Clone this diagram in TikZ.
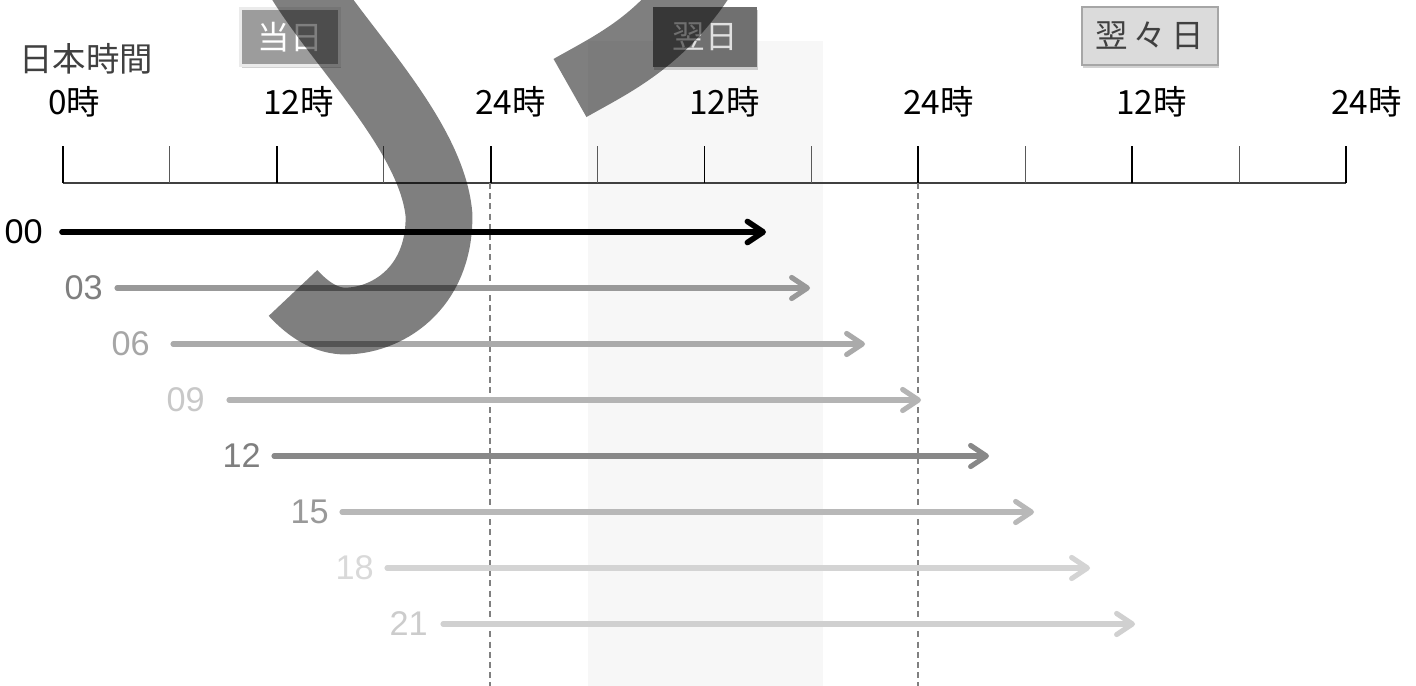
\documentclass[tikz,border=0pt]{standalone}
\usepackage{fontspec}
\setmainfont{Liberation Sans}
\newfontfamily\jpfont{Noto Sans CJK JP}
\usetikzlibrary{arrows.meta,shadows}

\definecolor{axisgray}{HTML}{404040}
\definecolor{bandgray}{HTML}{F7F7F7}
\definecolor{g03t}{HTML}{7F7F7F}\definecolor{g03l}{HTML}{999999}
\definecolor{g06t}{HTML}{A6A6A6}\definecolor{g06l}{HTML}{AAAAAA}
\definecolor{g09t}{HTML}{C8C8C8}\definecolor{g09l}{HTML}{B4B4B4}
\definecolor{g12t}{HTML}{7F7F7F}\definecolor{g12l}{HTML}{888888}
\definecolor{g15t}{HTML}{999999}\definecolor{g15l}{HTML}{B8B8B8}
\definecolor{g18t}{HTML}{D9D9D9}\definecolor{g18l}{HTML}{D4D4D4}
\definecolor{g21t}{HTML}{CCCCCC}\definecolor{g21l}{HTML}{D0D0D0}

\begin{document}
\begin{tikzpicture}[x=0.02cm, y=-0.02cm,
  hour/.style={font=\jpfont\fontsize{19}{21}\selectfont, anchor=west, inner sep=0pt},
  runlabel/.style={font=\fontsize{19.5}{21}\selectfont, anchor=east, inner sep=0pt},
  run/.style={line width=2.9pt, line cap=round, -{Straight Barb[length=9pt,width=12pt,round]}},
  daybox/.style={font=\jpfont\fontsize{18.5}{21}\selectfont, inner sep=0pt,
    drop shadow={shadow xshift=0.6pt, shadow yshift=-1.6pt, opacity=0.35}},
  dayline/.style={draw=gray, line width=0.8pt, dash pattern=on 3.4pt off 2.4pt}]
  \useasboundingbox (0,0) rectangle (1416,686);
  \fill[white] (0,0) rectangle (1416,686);

  % Highlighted half day
  \fill[bandgray] (588,41) rectangle (823,686);

  % Day captions
  \node[daybox, fill=gray!78, draw=white!92!black, line width=1.5pt, text=white,
    minimum width=1.98cm, minimum height=1.14cm] (today) at (290,37) {当日};
  \node[daybox, fill=black!56, text=white!88!black,
    minimum width=2.08cm, minimum height=1.2cm] (nextday) at (705,37) {翌日};
  \node[daybox, fill=black!14, draw=black!35, line width=0.8pt, text=axisgray,
    minimum width=2.72cm, minimum height=1.16cm] (dayafter) at (1150,36) {翌\,々\,日};

  % Time axis
  \node[font=\jpfont\fontsize{19}{21}\selectfont, text=axisgray, inner sep=0pt] (jst) at (86,59) {日本時間};
  \draw[axisgray, line width=0.6pt] (63,183) -- (1346,183);
  \foreach \i in {0,...,12} {
    \pgfmathsetmacro{\tx}{63+\i*106.92}
    \ifodd\i
      \draw[black!65, line width=0.5pt] (\tx,146) -- (\tx,183);
    \else
      \draw[black, line width=1pt] (\tx,146) -- (\tx,183);
    \fi
  }
  \foreach \t/\tx in {0時/63, 12時/278, 24時/490, 12時/704, 24時/918, 12時/1131, 24時/1346}
    \node[hour] (h\tx) at (\tx-15,102) {\t};

  % Day boundaries
  \draw[dayline] (490,183) -- (490,686);
  \draw[dayline] (918,183) -- (918,686);

  % Forecast runs
  \foreach \h/\yy/\lx/\sx/\ex/\tc/\lc/\lw in {
      00/232/43/62/766/black/black/3.2,
      03/288/103/117/810/g03t/g03l/2.9,
      06/344/150/173/865/g06t/g06l/2.9,
      09/400/205/229/921/g09t/g09l/2.9,
      12/456/261/274/989/g12t/g12l/2.9,
      15/512/329/342/1034/g15t/g15l/2.9,
      18/568/374/387/1090/g18t/g18l/2.9,
      21/624/428/443/1135/g21t/g21l/2.9} {
    \coordinate (s\h) at (\sx,\yy);
    \coordinate (e\h) at (\ex,\yy);
    \node[runlabel, text=\tc] (l\h) at (\lx,\yy) {\h};
    \draw[run, draw=\lc, line width=\lw pt] (s\h) -- (e\h);
  }

  % Big curved stroke on top
  \begin{scope}
    \clip (0,0) rectangle (1416,686);
    \draw[black, draw opacity=0.5, line width=38pt]
      (298,-22) .. controls (338,45) and (432,135) .. (439,215)
      .. controls (440,290) and (385,322) .. (343,321)
      .. controls (322,320) and (305,306) .. (293,293);
    \draw[black, draw opacity=0.5, line width=38pt]
      (570,88) .. controls (612,64) and (662,42) .. (706,-28);
  \end{scope}
\end{tikzpicture}
\end{document}
